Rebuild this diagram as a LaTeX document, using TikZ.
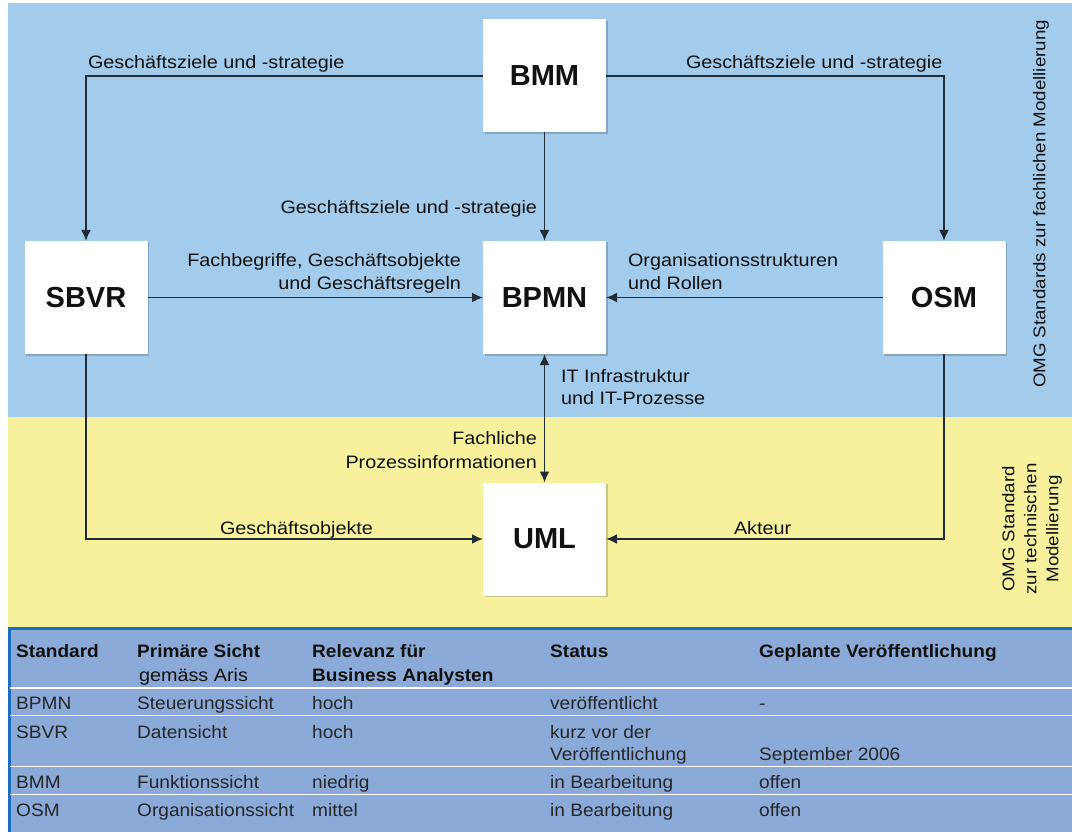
\documentclass[tikz,border=0pt]{standalone}
\usepackage{fontspec}
\setmainfont{Liberation Sans}
\newfontfamily\lblfont[FakeStretch=1.1]{Liberation Sans}
\newfontfamily\tabfont[FakeStretch=1.06]{Liberation Sans}
\usetikzlibrary{arrows.meta,shadows}
\definecolor{skyband}{HTML}{A3CBEB}
\definecolor{sandband}{HTML}{F7F19D}
\definecolor{tablebg}{HTML}{8BAAD8}
\definecolor{tableedge}{HTML}{1B6DC1}
\definecolor{linec}{HTML}{222C36}
\definecolor{txt}{HTML}{111111}
\definecolor{tabtxt}{HTML}{262626}
\tikzset{
  box/.style={fill=white, draw=none, minimum width=123pt, minimum height=113pt,
    inner sep=0pt, outer sep=0pt, text=txt,
    drop shadow={shadow xshift=1.5pt, shadow yshift=-1.5pt, opacity=0.18, fill=black},
    font=\fontsize{29}{32}\selectfont\bfseries},
  lbl/.style={inner sep=0pt, outer sep=0pt, text=txt,
    font=\lblfont\fontsize{18}{22}\selectfont},
  sidelbl/.style={lbl, rotate=90, align=center,
    font=\lblfont\fontsize{17}{22}\selectfont},
  conn/.style={draw=linec, line width=1.9pt, -{Latex[length=11pt,width=10pt]}},
  both/.style={conn, {Latex[length=11pt,width=10pt]}-{Latex[length=11pt,width=10pt]}},
  th/.style={inner sep=0pt, anchor=base west, text=txt,
    font=\tabfont\fontsize{18}{22}\selectfont\bfseries},
  td/.style={inner sep=0pt, anchor=base west, text=tabtxt,
    font=\tabfont\fontsize{18}{22}\selectfont},
  rowline/.style={draw=white, line width=1.5pt}
}
\begin{document}
\begin{tikzpicture}[x=1pt, y=-1pt]
\useasboundingbox (0,0) rectangle (1072,832);
\fill[white] (0,0) rectangle (1072,832);
% bands
\fill[skyband] (8,3) rectangle (1072,417);
\fill[sandband] (8,417) rectangle (1072,627);
\fill[tablebg] (8,627) rectangle (1072,832);
\draw[tableedge, line width=2.5pt] (1072,628.5) -- (9.25,628.5) -- (9.25,832);

% model boxes
\node[box] (bmm)  at (544.5,76)    {BMM};
\node[box] (sbvr) at (86,297.5)    {SBVR};
\node[box] (bpmn) at (544.5,297.5) {BPMN};
\node[box] (osm)  at (944,297.5)   {OSM};
\node[box] (uml)  at (544.5,539)   {UML};

% connectors
\draw[conn] (bmm.west) -| (sbvr.north);
\draw[conn] (bmm.east) -| (osm.north);
\draw[conn] (bmm.south) -- (bpmn.north);
\draw[conn] (sbvr.east) -- (bpmn.west);
\draw[conn] (osm.west) -- (bpmn.east);
\draw[both] (bpmn.south) -- (uml.north);
\draw[conn] (sbvr.south) |- (uml.west);
\draw[conn] (osm.south) |- (uml.east);

% connector labels
\node[lbl, anchor=base west] (l1) at (88,69) {Geschäftsziele und -strategie};
\node[lbl, anchor=base west] (l2) at (686,69) {Geschäftsziele und -strategie};
\node[lbl, anchor=base east] (l3) at (537,214) {Geschäftsziele und -strategie};
\node[lbl, anchor=base east] (l4a) at (461,266) {Fachbegriffe, Geschäftsobjekte};
\node[lbl, anchor=base east] (l4b) at (461,289) {und Geschäftsregeln};
\node[lbl, anchor=base west] (l5a) at (628,266) {Organisationsstrukturen};
\node[lbl, anchor=base west] (l5b) at (628,289) {und Rollen};
\node[lbl, anchor=base west] (l6a) at (561,382) {IT Infrastruktur};
\node[lbl, anchor=base west] (l6b) at (561,404) {und IT-Prozesse};
\node[lbl, anchor=base east] (l7a) at (537,444) {Fachliche};
\node[lbl, anchor=base east] (l7b) at (537,468) {Prozessinformationen};
\node[lbl, anchor=base west] (l8) at (220,534) {Geschäftsobjekte};
\node[lbl, anchor=base west] (l9) at (734,534) {Akteur};

% side captions
\node[sidelbl] (cap1) at (1041,204) {OMG Standards zur fachlichen Modellierung};
\node[sidelbl] (cap2) at (1032,529)
  {OMG Standard\\zur technischen\\Modellierung};

% table rules
\draw[rowline] (10,688) -- (1072,688);
\draw[rowline] (10,715.5) -- (1072,715.5);
\draw[rowline] (10,766.5) -- (1072,766.5);
\draw[rowline] (10,794.5) -- (1072,794.5);

% table header
\node[th] (h1) at (16,657) {Standard};
\node[th] (h2) at (137,657) {Primäre Sicht};
\node[lbl, anchor=base west] (h2b) at (139,681) {gemäss Aris};
\node[th] (h3) at (312,657) {Relevanz für};
\node[th] (h3b) at (312,681) {Business Analysten};
\node[th] (h4) at (550,657) {Status};
\node[th] (h5) at (759,657) {Geplante Veröffentlichung};

% table rows
\node[td] (r1a) at (16,709) {BPMN};
\node[td] (r1b) at (137,709) {Steuerungssicht};
\node[td] (r1c) at (312,709) {hoch};
\node[td] (r1d) at (550,709) {veröffentlicht};
\node[td] (r1e) at (759,709) {-};

\node[td] (r2a) at (16,738) {SBVR};
\node[td] (r2b) at (137,738) {Datensicht};
\node[td] (r2c) at (312,738) {hoch};
\node[td] (r2d) at (550,738) {kurz vor der};
\node[td] (r2d2) at (550,760) {Veröffentlichung};
\node[td] (r2e) at (759,760) {September 2006};

\node[td] (r3a) at (16,788) {BMM};
\node[td] (r3b) at (137,788) {Funktionssicht};
\node[td] (r3c) at (312,788) {niedrig};
\node[td] (r3d) at (550,788) {in Bearbeitung};
\node[td] (r3e) at (759,788) {offen};

\node[td] (r4a) at (16,816) {OSM};
\node[td] (r4b) at (137,816) {Organisationssicht};
\node[td] (r4c) at (312,816) {mittel};
\node[td] (r4d) at (550,816) {in Bearbeitung};
\node[td] (r4e) at (759,816) {offen};
\end{tikzpicture}
\end{document}
